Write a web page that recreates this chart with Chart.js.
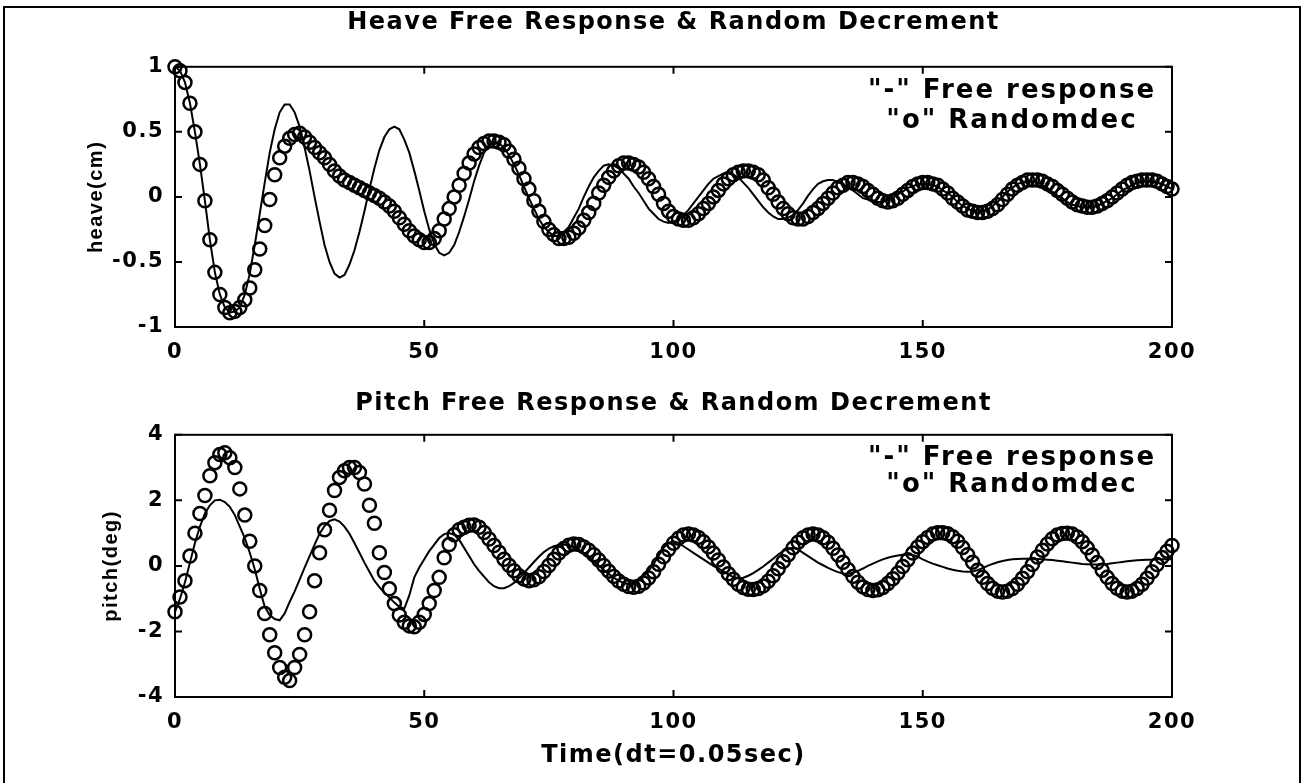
<!DOCTYPE html>
<html>
<head>
<meta charset="utf-8">
<script src="https://cdn.jsdelivr.net/npm/chart.js@4.4.1/dist/chart.umd.min.js"></script>
<style>
    body { margin: 0; background: #fff; }
    #page { position: relative; width: 1308px; height: 783px; overflow: hidden; background: #fff; }
    #border { position: absolute; left: 3px; top: 6px; width: 1294px; height: 800px; border: 2px solid #000; }
    canvas { position: absolute; left: 0; }
    #heave { top: 0; }
    #pitch { top: 370px; }
</style>
</head>
<body>
<div id="page">
    <div id="border"></div>
    <canvas id="heave" width="1308" height="370"></canvas>
    <canvas id="pitch" width="1308" height="413"></canvas>
</div>
<script>
// heave (cm), one value per time step 0..200
const heaveFree = [
    1.00, 0.97, 0.88, 0.72, 0.50, 0.25, -0.03, -0.33, -0.58, -0.75, -0.85, -0.89, -0.88,
    -0.85, -0.75, -0.59, -0.37, -0.13, 0.11, 0.34, 0.52, 0.65, 0.71, 0.71,
    0.65, 0.54, 0.38, 0.20, 0.00, -0.19, -0.37, -0.50, -0.59, -0.62,
    -0.60, -0.52, -0.41, -0.27, -0.11, 0.06, 0.22, 0.36, 0.46, 0.52, 0.54,
    0.52, 0.44, 0.34, 0.20, 0.05, -0.11, -0.25, -0.36, -0.43, -0.45,
    -0.43, -0.37, -0.27, -0.15, -0.02, 0.12, 0.24, 0.34, 0.40, 0.42,
    0.41, 0.38, 0.32, 0.25, 0.17, 0.08, -0.01, -0.09, -0.17, -0.23, -0.27, -0.30, -0.30,
    -0.27, -0.23, -0.16, -0.09, 0.00, 0.08, 0.15, 0.20, 0.24, 0.25,
    0.24, 0.22, 0.18, 0.14, 0.08, 0.03, -0.03, -0.09, -0.13, -0.17, -0.19, -0.20,
    -0.19, -0.17, -0.14, -0.10, -0.05, 0.00, 0.05, 0.10, 0.14, 0.16, 0.18, 0.18,
    0.17, 0.15, 0.11, 0.07, 0.02, -0.03, -0.08, -0.12, -0.15, -0.17, -0.17,
    -0.16, -0.14, -0.10, -0.05, 0.01, 0.06, 0.10, 0.12, 0.13,
    0.13, 0.11, 0.10, 0.07, 0.05, 0.02, -0.01, -0.02, -0.04, -0.04,
    -0.04, -0.02, -0.01, 0.02, 0.04, 0.07, 0.08, 0.10, 0.10,
    0.10, 0.09, 0.08, 0.05, 0.03, 0.00, -0.04, -0.07, -0.09, -0.11, -0.12,
    -0.11, -0.10, -0.07, -0.04, 0.00, 0.04, 0.07, 0.10, 0.11, 0.12,
    0.12, 0.11, 0.09, 0.07, 0.04, 0.01, -0.01, -0.04, -0.06, -0.07, -0.08, -0.08,
    -0.08, -0.07, -0.05, -0.03, -0.01, 0.02, 0.05, 0.07, 0.09, 0.11, 0.12, 0.12,
    0.12, 0.11, 0.10, 0.08, 0.06
]
const heaveRandomdec = [
    1.00, 0.97, 0.88, 0.72, 0.50, 0.25, -0.03, -0.33, -0.58, -0.75, -0.85, -0.89, -0.88,
    -0.85, -0.79, -0.70, -0.56, -0.40, -0.22, -0.02, 0.17, 0.30, 0.39, 0.45, 0.48, 0.49,
    0.46, 0.42, 0.38, 0.34, 0.30, 0.25, 0.20, 0.16, 0.13, 0.11,
    0.09, 0.07, 0.05, 0.03, 0.01, -0.01, -0.04, -0.07, -0.11, -0.16,
    -0.21, -0.26, -0.30, -0.33, -0.35, -0.35,
    -0.32, -0.26, -0.17, -0.09, 0.00, 0.09, 0.18, 0.26, 0.33, 0.38, 0.41, 0.43, 0.43,
    0.42, 0.40, 0.35, 0.29, 0.22, 0.14, 0.06, -0.03, -0.11, -0.19, -0.25, -0.29, -0.32, -0.32,
    -0.31, -0.28, -0.24, -0.18, -0.12, -0.05, 0.03, 0.09, 0.15, 0.20, 0.24, 0.26, 0.26,
    0.25, 0.23, 0.19, 0.14, 0.08, 0.02, -0.05, -0.11, -0.15, -0.17, -0.18,
    -0.18, -0.16, -0.13, -0.09, -0.05, 0.00, 0.05, 0.10, 0.14, 0.17, 0.19, 0.20, 0.20,
    0.19, 0.17, 0.13, 0.07, 0.02, -0.04, -0.09, -0.13, -0.16, -0.17,
    -0.17, -0.15, -0.12, -0.09, -0.05, -0.01, 0.03, 0.07, 0.09, 0.11, 0.11,
    0.10, 0.08, 0.05, 0.02, -0.01, -0.03, -0.04,
    -0.03, -0.01, 0.02, 0.05, 0.08, 0.10, 0.11, 0.11,
    0.10, 0.09, 0.06, 0.03, -0.01, -0.04, -0.07, -0.10, -0.11, -0.12, -0.12,
    -0.11, -0.09, -0.06, -0.02, 0.02, 0.06, 0.09, 0.11, 0.13, 0.13,
    0.13, 0.12, 0.10, 0.08, 0.05, 0.02, -0.01, -0.04, -0.06, -0.07, -0.08,
    -0.08, -0.07, -0.05, -0.03, 0.00, 0.03, 0.06, 0.09, 0.11, 0.12, 0.13, 0.13, 0.13,
    0.12, 0.10, 0.08, 0.06
]

// pitch (deg), one value per time step 0..200
const pitchFree = [
    -1.40, -1.00, -0.50, 0.10, 0.70, 1.20, 1.60, 1.85, 2.00, 2.02,
    1.95, 1.80, 1.55, 1.20, 0.85, 0.40, -0.10, -0.70, -1.25, -1.50, -1.62, -1.66,
    -1.45, -1.10, -0.78, -0.42, -0.05, 0.30, 0.65, 0.98, 1.22, 1.37, 1.42,
    1.35, 1.20, 0.98, 0.70, 0.40, 0.10, -0.18, -0.45, -0.65, -0.82, -0.96, -1.12, -1.25, -1.30,
    -0.90, -0.35, -0.05, 0.20, 0.45, 0.65, 0.85, 0.97, 1.00,
    0.95, 0.80, 0.55, 0.30, 0.05, -0.15, -0.33, -0.50, -0.62, -0.68, -0.68,
    -0.62, -0.52, -0.38, -0.22, -0.05, 0.12, 0.28, 0.42, 0.53, 0.60, 0.64, 0.65, 0.62,
    0.57, 0.49, 0.39, 0.27, 0.14, 0.01, -0.12, -0.24, -0.36, -0.45, -0.52, -0.55, -0.53,
    -0.45, -0.32, -0.15, 0.05, 0.30, 0.55, 0.70, 0.75, 0.70, 0.60,
    0.50, 0.40, 0.30, 0.20, 0.10, 0.00, -0.08, -0.16, -0.26, -0.34, -0.38,
    -0.36, -0.30, -0.22, -0.12, -0.02, 0.10, 0.22, 0.35, 0.45, 0.52, 0.55,
    0.50, 0.40, 0.30, 0.20, 0.10, 0.02, -0.06, -0.13, -0.19, -0.23, -0.24,
    -0.21, -0.15, -0.08, 0.00, 0.07, 0.14, 0.20, 0.25, 0.29, 0.32, 0.34, 0.35,
    0.33, 0.28, 0.20, 0.13, 0.07, 0.02, -0.03, -0.08, -0.12, -0.15, -0.17, -0.18, -0.17,
    -0.13, -0.07, 0.00, 0.06, 0.11, 0.15, 0.18, 0.20, 0.21, 0.22,
    0.22, 0.22, 0.21, 0.20, 0.19, 0.18, 0.16, 0.14, 0.12, 0.10,
    0.08, 0.06, 0.05, 0.04, 0.04, 0.05, 0.06, 0.08, 0.10, 0.12,
    0.14, 0.16, 0.17, 0.18, 0.19, 0.19, 0.20, 0.20, 0.20, 0.20
]
const pitchRandomdec = [
    -1.40, -0.95, -0.45, 0.30, 1.00, 1.60, 2.15, 2.75, 3.15, 3.40, 3.45, 3.30, 3.00,
    2.35, 1.55, 0.75, 0.00, -0.75, -1.45, -2.10, -2.65, -3.10, -3.40, -3.50,
    -3.10, -2.70, -2.10, -1.40, -0.45, 0.40, 1.10, 1.70, 2.30, 2.70, 2.90, 3.00, 3.00,
    2.85, 2.50, 1.85, 1.30, 0.40, -0.20, -0.70, -1.15, -1.50, -1.72, -1.83, -1.86,
    -1.72, -1.48, -1.15, -0.75, -0.35, 0.25, 0.65, 0.95, 1.10, 1.18, 1.24, 1.25,
    1.18, 1.02, 0.82, 0.62, 0.42, 0.20, 0.02, -0.15, -0.30, -0.40, -0.45,
    -0.42, -0.33, -0.17, 0.01, 0.20, 0.39, 0.53, 0.63, 0.67,
    0.65, 0.58, 0.48, 0.34, 0.18, 0.01, -0.16, -0.32, -0.46, -0.56, -0.63, -0.65,
    -0.62, -0.52, -0.37, -0.18, 0.05, 0.28, 0.50, 0.69, 0.84, 0.94, 0.97,
    0.94, 0.87, 0.74, 0.58, 0.39, 0.18, -0.03, -0.24, -0.41, -0.56, -0.66, -0.71, -0.72,
    -0.69, -0.61, -0.47, -0.30, -0.09, 0.13, 0.34, 0.55, 0.72, 0.86, 0.94, 0.97,
    0.94, 0.86, 0.72, 0.54, 0.33, 0.11, -0.11, -0.32, -0.50, -0.64, -0.72, -0.75,
    -0.73, -0.66, -0.54, -0.39, -0.22, -0.02, 0.19, 0.39, 0.58, 0.74, 0.87, 0.97, 1.01, 1.01,
    0.98, 0.89, 0.75, 0.56, 0.34, 0.11, -0.13, -0.35, -0.54, -0.68, -0.77, -0.80,
    -0.77, -0.69, -0.56, -0.38, -0.18, 0.04, 0.27, 0.48, 0.67, 0.83, 0.94, 0.99, 1.00,
    0.97, 0.88, 0.74, 0.55, 0.33, 0.10, -0.13, -0.35, -0.54, -0.68, -0.77, -0.80,
    -0.77, -0.69, -0.56, -0.38, -0.18, 0.04, 0.26, 0.45, 0.62
]

const xTicks = [0, 50, 100, 150, 200]
const heaveTicks = [-1, -0.5, 0, 0.5, 1]
const pitchTicks = [-4, -2, 0, 2, 4]
const noteLines = ['"-" Free response', '"o" Randomdec']

Chart.defaults.font.family = "'DejaVu Sans', sans-serif"
Chart.defaults.font.weight = 'bold'
Chart.defaults.color = '#000'

const toPoints = (values) => values.map((v, i) => ({ x: i, y: v }))

// box round the plot, inward tick marks and the two note lines
const matlabBox = {
    id: 'matlabBox',
    beforeDraw: (chart) => {
        chart.ctx.letterSpacing = '1.5px'
    },
    afterDatasetsDraw: (chart) => {
        const { ctx, chartArea: a, scales: { x, y } } = chart
        ctx.save()
        ctx.strokeStyle = '#000'
        ctx.lineWidth = 2
        ctx.strokeRect(a.left, a.top, a.right - a.left, a.bottom - a.top)
        ctx.beginPath()
        x.ticks.forEach(t => {
            const px = x.getPixelForValue(t.value)
            ctx.moveTo(px, a.bottom); ctx.lineTo(px, a.bottom - 7)
            ctx.moveTo(px, a.top); ctx.lineTo(px, a.top + 7)
        })
        y.ticks.forEach(t => {
            const py = y.getPixelForValue(t.value)
            ctx.moveTo(a.left, py); ctx.lineTo(a.left + 7, py)
            ctx.moveTo(a.right, py); ctx.lineTo(a.right - 7, py)
        })
        ctx.stroke()
        ctx.restore()
    },
    afterDraw: (chart, args, opts) => {
        const ctx = chart.ctx
        ctx.save()
        ctx.letterSpacing = '2px'
        ctx.font = "bold 26px 'DejaVu Sans', sans-serif"
        ctx.fillStyle = '#000'
        ctx.textAlign = 'center'
        ctx.textBaseline = 'middle'
        noteLines.forEach((line, i) => ctx.fillText(line, opts.x, opts.y + i * opts.gap))
        ctx.restore()
    }
}

const createChart = (canvasId, cfg) => {
    const context = document.getElementById(canvasId).getContext('2d')

    return new Chart(context, {
        type: 'line',
        data: {
            datasets: [{
                data: toPoints(cfg.free),
                borderColor: '#000',
                borderWidth: 2,
                pointRadius: 0,
                tension: 0,
                clip: false
            }, {
                data: toPoints(cfg.random),
                showLine: false,
                pointStyle: 'circle',
                pointRadius: 6.5,
                pointBorderWidth: 2.5,
                pointBorderColor: '#000',
                pointBackgroundColor: 'rgba(0,0,0,0)',
                clip: false
            }]
        },
        options: {
            responsive: false,
            animation: false,
            events: [],
            layout: { padding: { left: 0, right: 136, top: 0, bottom: 0 } },
            plugins: {
                legend: { display: false },
                tooltip: { enabled: false },
                title: {
                    display: true,
                    text: cfg.title,
                    fullSize: false,
                    color: '#000',
                    font: { size: 24, weight: 'bold' },
                    padding: cfg.titlePad
                },
                matlabBox: cfg.notes
            },
            scales: {
                x: {
                    type: 'linear',
                    min: 0,
                    max: 200,
                    afterBuildTicks: s => { s.ticks = xTicks.map(v => ({ value: v })) },
                    ticks: { padding: 13, maxRotation: 0, font: { size: 21 }, callback: v => String(v) },
                    grid: { display: false, drawTicks: false },
                    border: { display: false },
                    title: {
                        display: !!cfg.xTitle,
                        text: cfg.xTitle || '',
                        font: { size: 24 },
                        padding: { top: 0, bottom: 13 }
                    },
                    afterFit: s => { s.height = cfg.xHeight }
                },
                y: {
                    type: 'linear',
                    min: cfg.yTicks[0],
                    max: cfg.yTicks[cfg.yTicks.length - 1],
                    afterBuildTicks: s => { s.ticks = cfg.yTicks.map(v => ({ value: v })) },
                    ticks: { padding: 11, font: { size: 21 }, callback: v => String(v) },
                    grid: { display: false, drawTicks: false },
                    border: { display: false },
                    title: {
                        display: true,
                        text: cfg.yTitle,
                        font: { family: "'Liberation Sans', sans-serif", size: 20, weight: 'bold' },
                        padding: { top: cfg.yTitlePad, bottom: 0 }
                    },
                    afterFit: s => { s.width = 175 }
                }
            }
        },
        plugins: [matlabBox]
    })
}

createChart('heave', {
    title: 'Heave Free Response & Random Decrement',
    titlePad: { top: 8, bottom: 30 },
    yTitle: 'heave(cm)',
    yTitlePad: 84,
    yTicks: heaveTicks,
    xHeight: 43,
    free: heaveFree,
    random: heaveRandomdec,
    notes: { x: 1012, y: 91, gap: 30 }
})

createChart('pitch', {
    title: 'Pitch Free Response & Random Decrement',
    titlePad: { top: 19, bottom: 17 },
    yTitle: 'pitch(deg)',
    yTitlePad: 99,
    xTitle: 'Time(dt=0.05sec)',
    yTicks: pitchTicks,
    xHeight: 86,
    free: pitchFree,
    random: pitchRandomdec,
    notes: { x: 1012, y: 88, gap: 27 }
})
</script>
</body>
</html>
